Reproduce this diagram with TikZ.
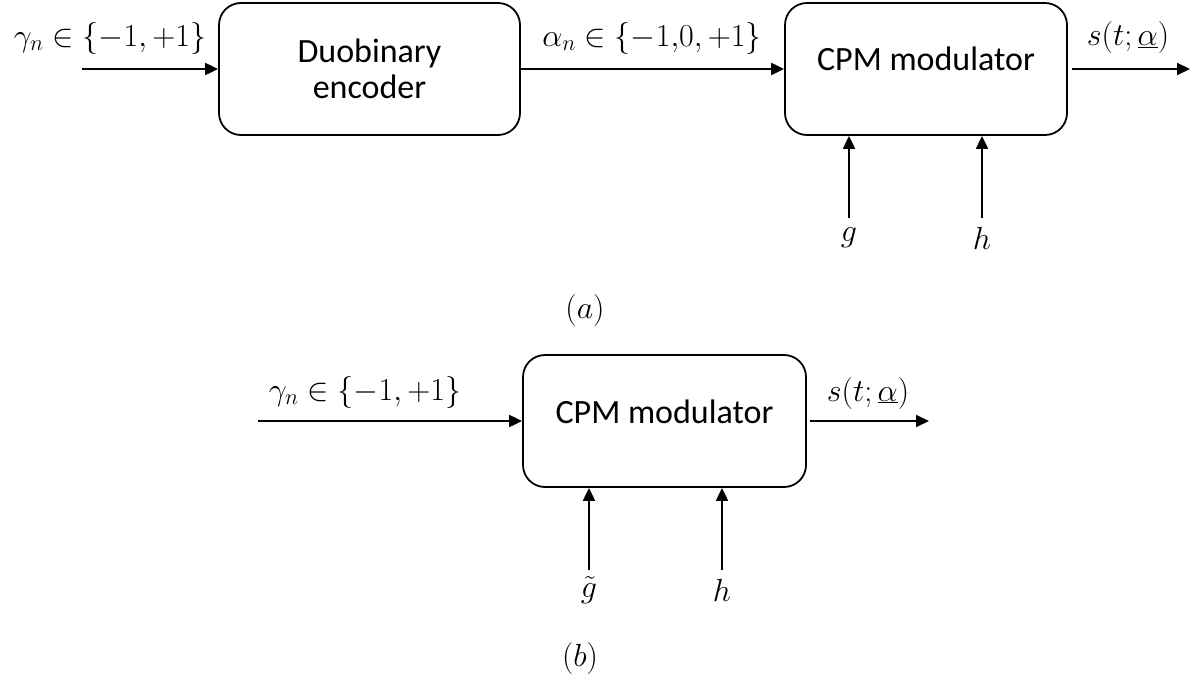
\RequirePackage{fix-cm}
\documentclass[tikz,border=0pt]{standalone}
\usepackage[no-math]{fontspec}
\setmainfont{Carlito}
\usetikzlibrary{arrows.meta}
\begin{document}
\begin{tikzpicture}[x=1pt,y=-1pt,
  blk/.style={draw,line width=1.8pt,rounded corners=22pt,inner sep=0pt,align=center,
    font=\fontsize{34}{36}\selectfont},
  lbl/.style={inner sep=0pt,font=\fontsize{32}{38}\selectfont},
  arr/.style={line width=2pt,-{Triangle[length=13pt,width=12pt]}}]
\useasboundingbox (0,0) rectangle (1197,680);
% (a)
\node[blk,minimum width=301pt,minimum height=132pt] (enc) at (369.5,69) {Duobinary\\encoder};
\node[blk,minimum width=282pt,minimum height=132pt,text depth=20pt] (cpma) at (926,69) {CPM modulator};
\coordinate (ina) at (82,69);
\coordinate (outa) at (1190,69);
\draw[arr] (ina) -- (enc.west);
\draw[arr] (enc.east) -- (cpma.west);
\draw[arr,shorten <=4pt] (cpma.east) -- (outa);
\node[lbl] (gama) at (110,38) {$\gamma_n\in\{-1,+1\}$};
\node[lbl] (alpa) at (652,38) {$\alpha_n\in\{-1{,}0,+1\}$};
\node[lbl] (sa) at (1128,38) {$s(t;\underline{\alpha})$};
\node[lbl] (ga) at (849,238) {$g$};
\node[lbl] (ha) at (982,238) {$h$};
\coordinate (gas) at (849,218);
\coordinate (has) at (982,218);
\draw[arr] (gas) -- (gas |- cpma.south);
\draw[arr] (has) -- (has |- cpma.south);
\node[lbl] (capa) at (585,310) {$(a)$};
% (b)
\node[blk,minimum width=283pt,minimum height=132pt,text depth=18pt] (cpmb) at (664.5,421) {CPM modulator};
\coordinate (inb) at (258,421);
\coordinate (outb) at (929,421);
\draw[arr] (inb) -- (cpmb.west);
\draw[arr,shorten <=3pt] (cpmb.east) -- (outb);
\node[lbl] (gamb) at (365,392) {$\gamma_n\in\{-1,+1\}$};
\node[lbl] (sb) at (868,393) {$s(t;\underline{\alpha})$};
\node[lbl] (gb) at (589,590) {$\tilde{g}$};
\node[lbl] (hb) at (722,590) {$h$};
\coordinate (gbs) at (589,570);
\coordinate (hbs) at (722,570);
\draw[arr] (gbs) -- (gbs |- cpmb.south);
\draw[arr] (hbs) -- (hbs |- cpmb.south);
\node[lbl] (capb) at (580,658) {$(b)$};
\end{tikzpicture}
\end{document}
